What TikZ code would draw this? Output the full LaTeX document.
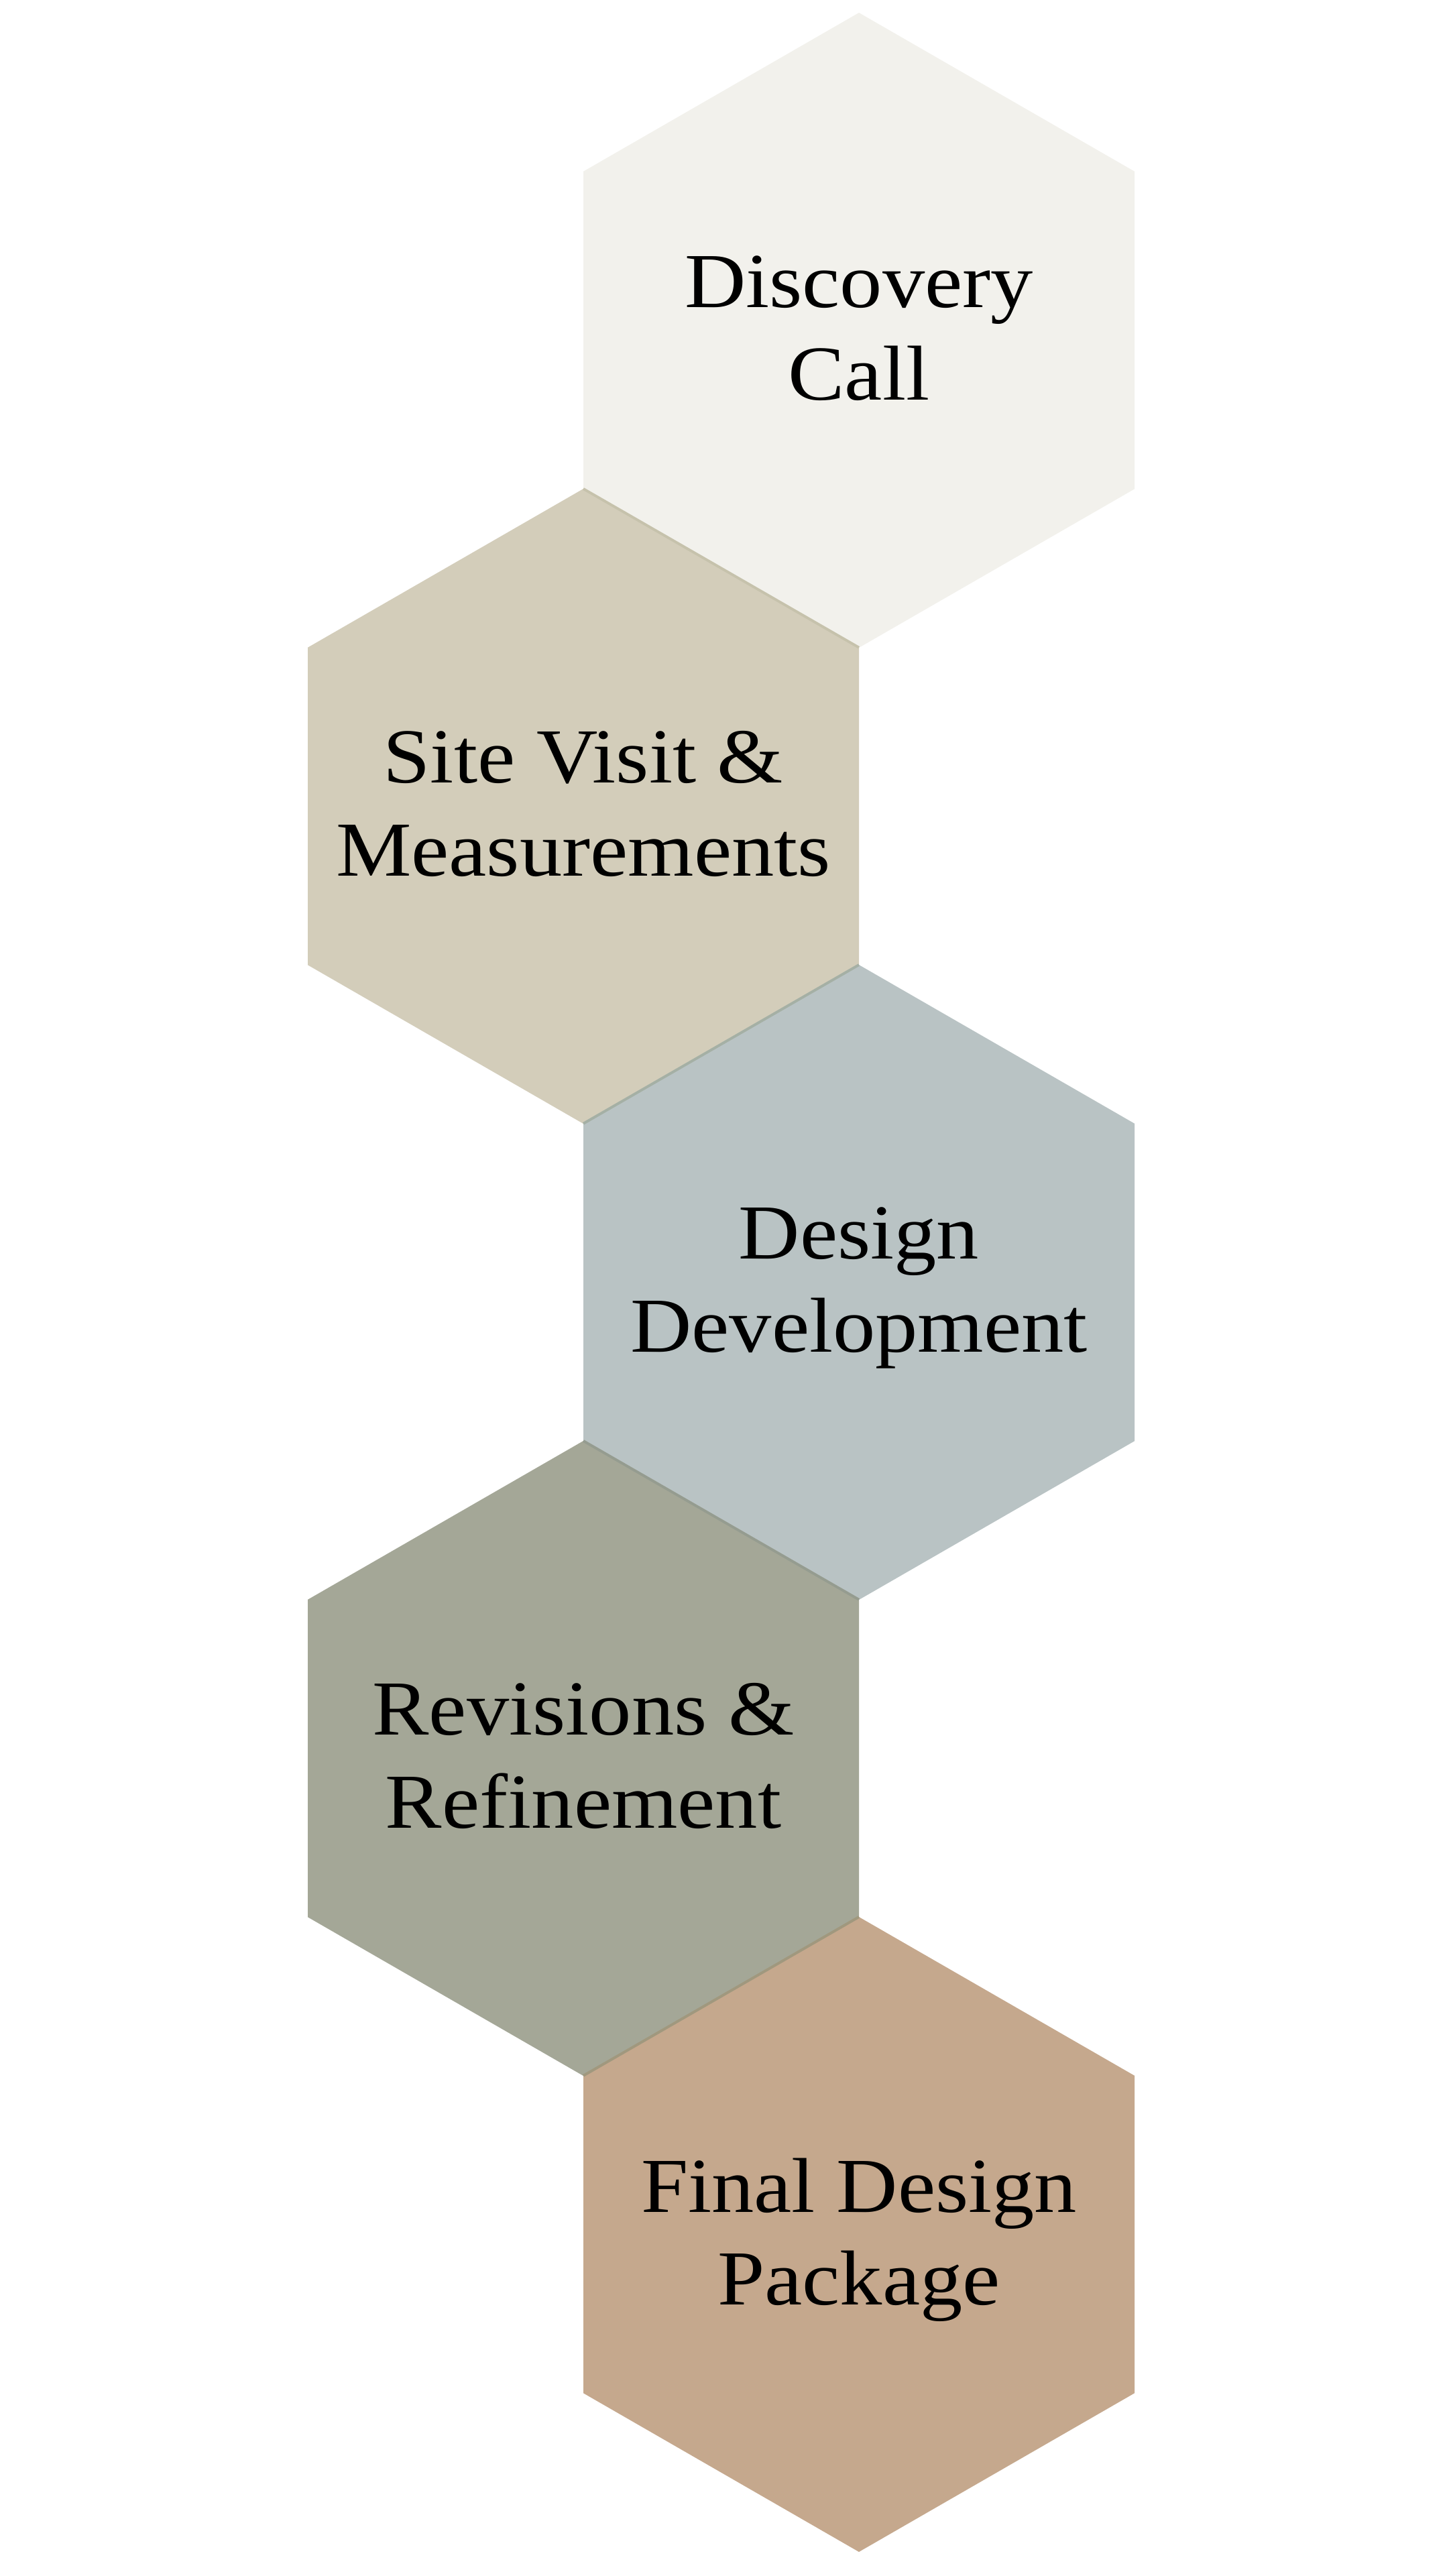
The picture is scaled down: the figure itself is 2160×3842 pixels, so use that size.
\documentclass[tikz,border=0pt]{standalone}
\usepackage{fontspec}
\setmainfont{Liberation Serif}[FakeStretch=1.09]
\definecolor{c1}{HTML}{F2F1EC}
\definecolor{c2}{HTML}{D3CDBA}
\definecolor{c3}{HTML}{B9C3C4}
\definecolor{c4}{HTML}{A4A797}
\definecolor{c5}{HTML}{C5A88D}
\definecolor{s12}{HTML}{C6C2AC}
\definecolor{s23}{HTML}{A5B0A5}
\definecolor{s34}{HTML}{959C90}
\definecolor{s45}{HTML}{A0987E}
\newcommand\myhex[3]{%
  \fill[#3] (#1,#2-473.5) -- (#1+411,#2-236.75) -- (#1+411,#2+236.75) --
    (#1,#2+473.5) -- (#1-411,#2+236.75) -- (#1-411,#2-236.75) -- cycle;}
\begin{document}
\begin{tikzpicture}[x=0.01cm,y=-0.01cm,
  lbl/.style={font=\fontsize{33}{39.3}\selectfont, align=center, inner sep=0pt, text=black},
  seam/.style={line width=1.1pt, line cap=butt}]
\useasboundingbox (0,0) rectangle (2160,3842);
\fill[white] (0,0) rectangle (2160,3842);
\myhex{1281}{492.5}{c1}
\myhex{870}{1202.5}{c2}
\myhex{1281}{1912.5}{c3}
\myhex{870}{2622.5}{c4}
\myhex{1281}{3332.5}{c5}
\coordinate (a1) at (870,729);   \coordinate (b1) at (1281,965.75);
\coordinate (a2) at (1281,1439); \coordinate (b2) at (870,1675.75);
\coordinate (a3) at (870,2149);  \coordinate (b3) at (1281,2385.75);
\coordinate (a4) at (1281,2859); \coordinate (b4) at (870,3095.75);
\draw[seam, s12] (a1) -- (b1);
\draw[seam, s23] (a2) -- (b2);
\draw[seam, s34] (a3) -- (b3);
\draw[seam, s45] (a4) -- (b4);
\node[lbl] (t1) at (1281,490) {Discovery\\Call};
\node[lbl] (t2) at (870,1199) {Site Visit \&\\Measurements};
\node[lbl] (t3) at (1281,1921) {Design\\Development};
\node[lbl] (t4) at (870,2619) {Revisions \&\\Refinement};
\node[lbl] (t5) at (1281,3341) {Final Design\\Package};
\end{tikzpicture}
\end{document}
